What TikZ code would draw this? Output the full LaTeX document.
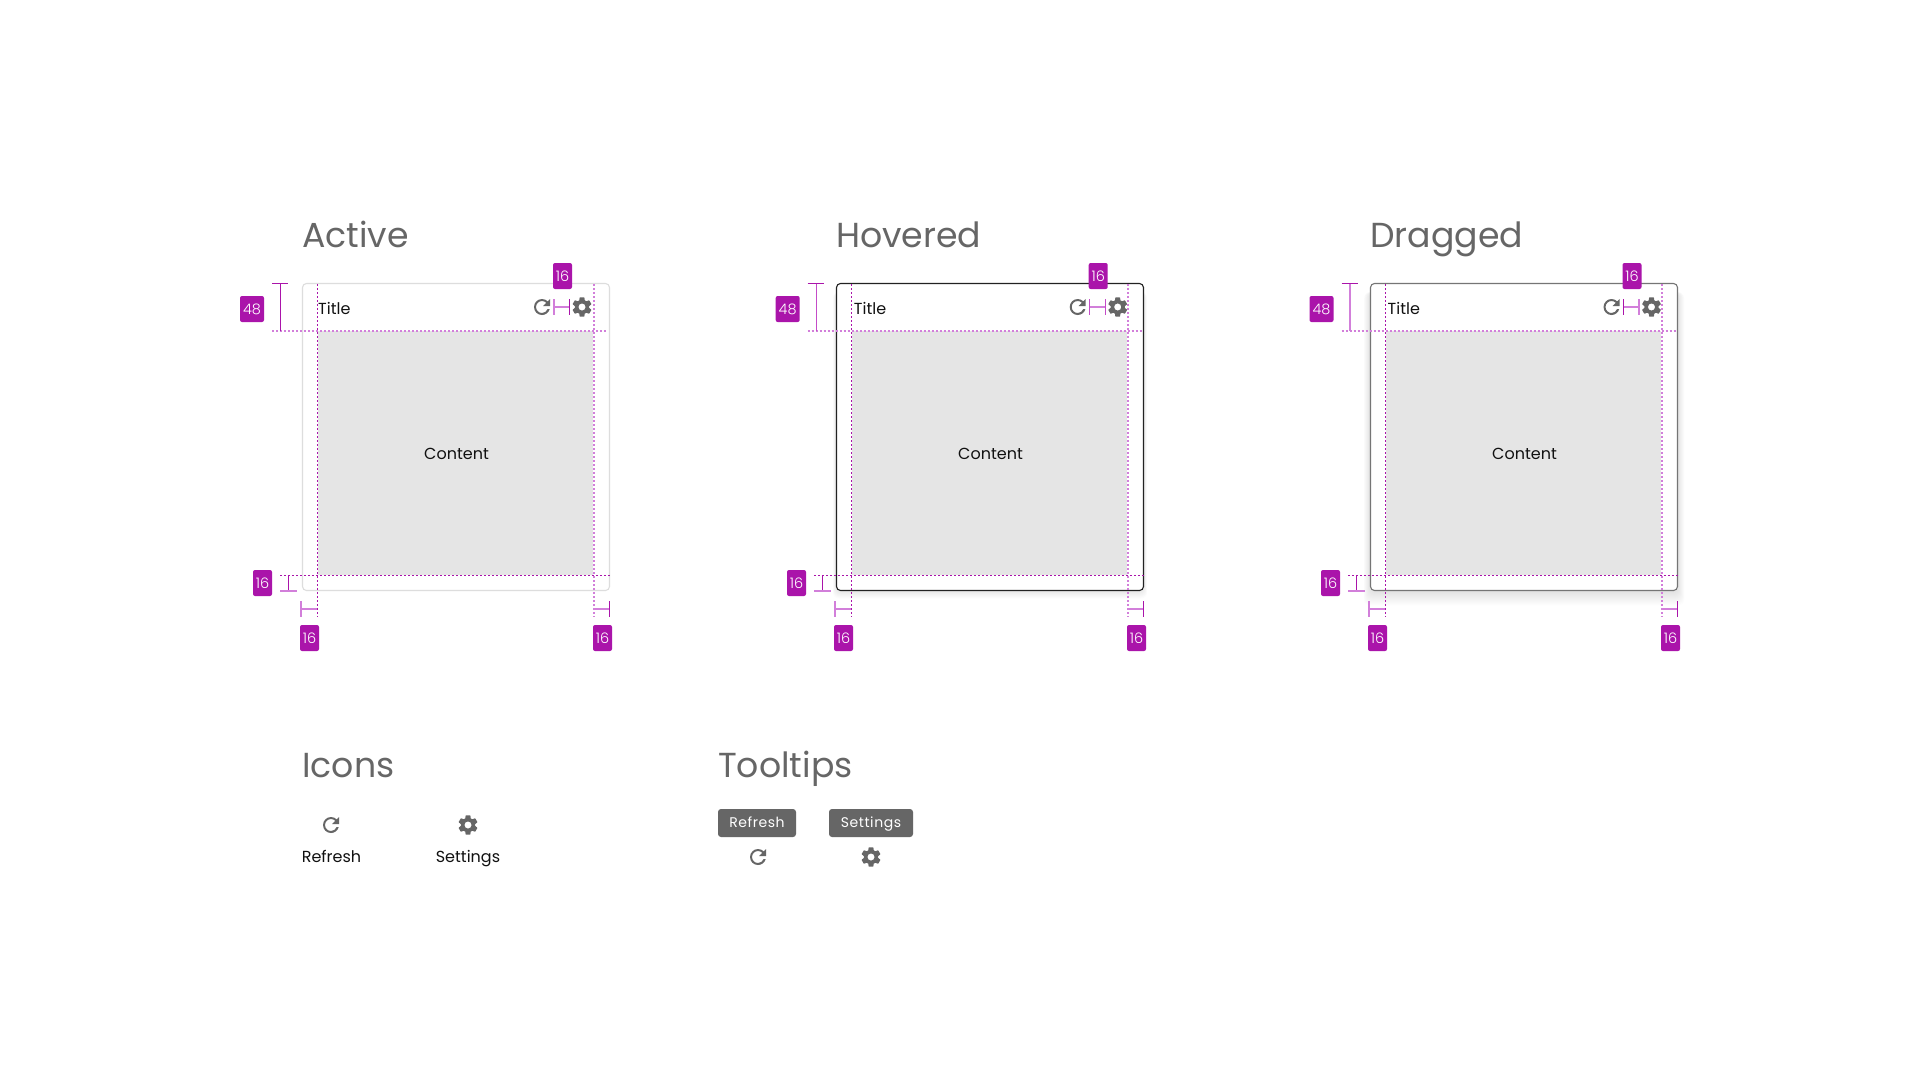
\documentclass[tikz,border=0pt]{standalone}
\usepackage{fontspec}
\setmainfont{Poppins}
\newfontfamily\poplight{Poppins Light}
\usetikzlibrary{svg.path}
\definecolor{magdark}{HTML}{AA14AA}
\definecolor{maglight}{HTML}{D27FDA}
\definecolor{magmid}{HTML}{C44CC8}
\definecolor{headgray}{HTML}{666666}
\definecolor{contentgray}{HTML}{E5E5E5}
\definecolor{inkblack}{HTML}{111111}
\definecolor{cardactive}{HTML}{DDDDDD}
\definecolor{cardhover}{HTML}{222222}
\definecolor{carddrag}{HTML}{757575}
\newcommand{\gearicon}[2]{\begin{scope}[shift={(#1,#2)},yscale=-1,shift={(-12pt,-12pt)}]
\fill[headgray,even odd rule] svg {M19.14 12.94c.04-.3.06-.61.06-.94 0-.32-.02-.64-.07-.94l2.03-1.58c.18-.14.23-.41.12-.61l-1.92-3.32c-.12-.22-.37-.29-.59-.22l-2.39.96c-.5-.38-1.03-.7-1.62-.94l-.36-2.54c-.04-.24-.24-.41-.48-.41h-3.84c-.24 0-.43.17-.47.41l-.36 2.54c-.59.24-1.13.57-1.62.94l-2.39-.96c-.22-.08-.47 0-.59.22L2.74 8.87c-.12.21-.08.47.12.61l2.03 1.58c-.05.3-.09.63-.09.94s.02.64.07.94l-2.03 1.58c-.18.14-.23.41-.12.61l1.92 3.32c.12.22.37.29.59.22l2.39-.96c.5.38 1.03.7 1.62.94l.36 2.54c.05.24.24.41.48.41h3.84c.24 0 .44-.17.47-.41l.36-2.54c.59-.24 1.13-.56 1.62-.94l2.39.96c.22.08.47 0 .59-.22l1.92-3.32c.12-.22.07-.47-.12-.61l-2.01-1.58zM12 15.6c-1.98 0-3.6-1.62-3.6-3.6s1.62-3.6 3.6-3.6 3.6 1.62 3.6 3.6-1.62 3.6-3.6 3.6z};
\end{scope}}
\newcommand{\refreshicon}[2]{\begin{scope}[shift={(#1,#2)},yscale=-1,shift={(-12pt,-12pt)}]
\fill[headgray] svg {M17.65 6.35C16.2 4.9 14.21 4 12 4c-4.42 0-7.99 3.58-7.99 8s3.57 8 7.99 8c3.73 0 6.84-2.55 7.73-6h-2.08c-.82 2.33-3.04 4-5.65 4-3.31 0-6-2.69-6-6s2.69-6 6-6c1.66 0 3.14.69 4.22 1.78L13 11h7V4l-2.35 2.35z};
\end{scope}}
\tikzset{
 x=1pt,y=-1pt,
 heading/.style={anchor=base west,inner sep=0pt,text=headgray,font=\fontsize{34.7}{40}\selectfont},
 bodytext/.style={inner sep=0pt,text=inkblack,font=\fontsize{16}{20}\selectfont},
 badge/.style={fill=magdark,rounded corners=2pt,inner sep=0pt,minimum height=26pt,text=white,font=\poplight\fontsize{14.5}{16}\selectfont,text height=10pt,text depth=0pt},
 badgenar/.style={badge,minimum width=19pt},
 badgewide/.style={badge,minimum width=24pt},
 tipbox/.style={fill=headgray,rounded corners=3pt,inner sep=0pt,minimum height=28pt,text=white,text height=10pt,text depth=2pt,font=\addfontfeatures{LetterSpace=4}\fontsize{14}{16}\selectfont},
 thinline/.style={magdark,line width=1pt},
 midline/.style={magmid,line width=1.4pt},
 wideline/.style={maglight,line width=2pt},
 thindots/.style={magdark,line width=1pt,dash pattern=on 2pt off 2pt},
 widedots/.style={maglight,line width=2pt,dash pattern=on 2pt off 2pt},
}
\newcommand{\softshadow}[3]{\begin{scope}[xshift=#1pt]
 \foreach \g in {1,...,#2}{
  \fill[black,opacity=#3,rounded corners=6pt] (302.5-0.45*\g,292) rectangle (609.5+0.45*\g,590.5+\g);
 }
\end{scope}}
% #1 prefix, #2 card offset, #3 heading, #4 border colour, #5 header shift,
% #6 style of the 48 rule, #7 and #8 styles of the two caps of the icon gap
\newcommand{\statecard}[8]{
\begin{scope}[xshift=#2pt]
\node[heading] (#1head) at (302,247.5) {#3};
\node[draw=#4,line width=1.1pt,fill=white,rounded corners=4pt,inner sep=0pt,minimum width=307pt,minimum height=307pt] (#1card) at (456,437) {};
\node[fill=contentgray,inner sep=0pt,minimum width=275pt,minimum height=244pt] (#1content) at (455.5,453) {};
\node[bodytext,anchor=base] (#1label) at (456.5,459) {Content};
\draw[thindots] (280,575.5) -- (610.5,575.5);
\draw[thindots] (317.5,284) -- (317.5,617);
\draw[widedots] (594,284) -- (594,617);
\draw[thinline] (288.5,575.5) -- (288.5,591);
\draw[wideline] (280,591) -- (297,591);
\draw[wideline] (301,601) -- (301,617);
\draw[wideline] (301,609) -- (317,609);
\draw[wideline] (594,609) -- (609.5,609);
\draw[thinline] (609.5,601) -- (609.5,617);
\node[badgenar] (#1bb) at (262.5,583) {16};
\node[badgenar] (#1bl) at (309.5,638) {16};
\node[badgenar] (#1br) at (602.5,638) {16};
\begin{scope}[xshift=#5pt]
\node[bodytext,anchor=base west] (#1title) at (318,314) {Title};
\refreshicon{542}{307}
\gearicon{582}{307}
\draw[widedots] (272,331) -- (607,331);
\draw[thinline] (272,283.5) -- (288,283.5);
\draw[#6] (280.5,283.5) -- (280.5,331);
\draw[#7] (554,299) -- (554,315);
\draw[wideline] (554,307) -- (569.5,307);
\draw[#8] (569.5,299) -- (569.5,315);
\node[badgewide] (#1bh) at (252,309) {48};
\node[badgenar] (#1bt) at (562.5,276) {16};
\end{scope}
\end{scope}}
\begin{document}
\begin{tikzpicture}
\useasboundingbox (0,0) rectangle (1920,1080);
\fill[white] (0,0) rectangle (1920,1080);
\statecard{a}{0}{Active}{cardactive}{0}{thinline}{wideline}{thinline}
\softshadow{534}{8}{0.010}
\statecard{h}{534}{Hovered}{cardhover}{1.7}{midline}{midline}{midline}
\softshadow{1068}{15}{0.009}
\statecard{d}{1068}{Dragged}{carddrag}{1.5}{wideline}{thinline}{wideline}
\node[heading] (hicons) at (302,777.5) {Icons};
\node[heading] (htips) at (718,777.5) {Tooltips};
\refreshicon{331}{825}
\gearicon{468}{825}
\node[bodytext,anchor=base] (lrefresh) at (331.5,862) {Refresh};
\node[bodytext,anchor=base] (lsettings) at (468,862) {Settings};
\node[tipbox,minimum width=78pt] (trefresh) at (757,823) {Refresh};
\node[tipbox,minimum width=84pt] (tsettings) at (871,823) {Settings};
\refreshicon{758}{857}
\gearicon{871}{857}
\end{tikzpicture}
\end{document}
